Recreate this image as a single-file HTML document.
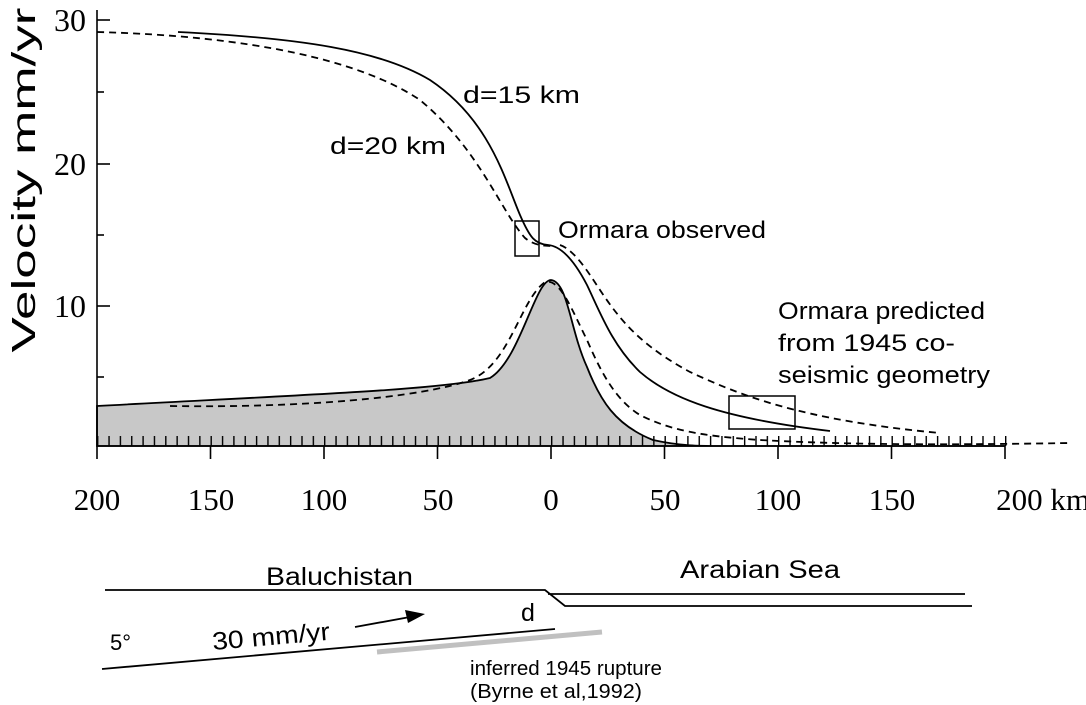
<!DOCTYPE html>
<html><head><style>body{margin:0;background:#fff}svg{display:block}text{font-family:"Liberation Sans",sans-serif}</style></head><body>
<svg width="1086" height="705" viewBox="0 0 1086 705">
<defs>
<pattern id="tk" x="97" y="0" width="11.35" height="705" patternUnits="userSpaceOnUse">
<line x1="0.7" y1="436" x2="0.7" y2="446" stroke="#000" stroke-width="1.4"/>
</pattern>
</defs>
<path d="M97,406 C300,395 440,390 490,378 C520,360 535,280 551,280 C568,282 570,330 587,367 C600,400 615,425 653,440 C680,446 700,446 720,446 L1005,446 L97,446 Z" fill="#c8c8c8" stroke="#000" stroke-width="1.8"/>
<rect x="96" y="435" width="912" height="12" fill="url(#tk)"/>
<g stroke="#000" stroke-width="1.6" fill="none">
<line x1="97" y1="10" x2="97" y2="446"/>
<line x1="97" y1="446" x2="1005" y2="446"/>
<line x1="97" y1="20" x2="110" y2="20"/><line x1="97" y1="92" x2="104" y2="92"/>
<line x1="97" y1="164" x2="110" y2="164"/><line x1="97" y1="235" x2="104" y2="235"/>
<line x1="97" y1="306" x2="110" y2="306"/><line x1="97" y1="377" x2="104" y2="377"/>
<line x1="97" y1="446" x2="97" y2="459"/><line x1="210.5" y1="446" x2="210.5" y2="459"/>
<line x1="324" y1="446" x2="324" y2="459"/><line x1="437.5" y1="446" x2="437.5" y2="459"/>
<line x1="551" y1="446" x2="551" y2="459"/><line x1="664.5" y1="446" x2="664.5" y2="459"/>
<line x1="778" y1="446" x2="778" y2="459"/><line x1="891.5" y1="446" x2="891.5" y2="459"/>
<line x1="1005" y1="446" x2="1005" y2="459"/>
</g>
<g fill="none" stroke="#000" stroke-width="1.8">
<path d="M178,32 C300,38 380,50 430,80 C490,120 505,180 520,215 C530,238 535,244 548,245 C562,246 575,262 587,285 C600,312 612,345 640,372 C670,398 720,418 830,431"/>
<path d="M97,32 C250,36 360,60 420,100 C480,150 500,210 525,238 C535,246 545,246 555,246" stroke-dasharray="7,5"/>
<path d="M560,245 C575,250 590,275 600,290 C620,320 640,345 690,372 C740,395 800,420 940,433" stroke-dasharray="7,5"/>
<path d="M170,406 C300,408 420,398 470,380 C510,365 520,300 545,282 C560,278 572,310 587,340 C600,370 615,400 640,415 C670,430 700,436 760,440 C850,445 950,445 1070,443" stroke-dasharray="7,5"/>
<rect x="515" y="221" width="24" height="35" stroke-width="1.5"/>
<rect x="729" y="396" width="66" height="33" stroke-width="1.5"/>
</g>
<g font-size="32" text-anchor="end">
<text x="86" y="31" style="font-family:'Liberation Serif',serif">30</text>
<text x="86" y="175" style="font-family:'Liberation Serif',serif">20</text>
<text x="86" y="317" style="font-family:'Liberation Serif',serif">10</text>
</g>
<g font-size="31" text-anchor="middle">
<text x="97" y="510" style="font-family:'Liberation Serif',serif">200</text>
<text x="211" y="510" style="font-family:'Liberation Serif',serif">150</text>
<text x="324" y="510" style="font-family:'Liberation Serif',serif">100</text>
<text x="438" y="510" style="font-family:'Liberation Serif',serif">50</text>
<text x="551" y="510" style="font-family:'Liberation Serif',serif">0</text>
<text x="665" y="510" style="font-family:'Liberation Serif',serif">50</text>
<text x="778" y="510" style="font-family:'Liberation Serif',serif">100</text>
<text x="892" y="510" style="font-family:'Liberation Serif',serif">150</text>
<text x="1043" y="510" style="font-family:'Liberation Serif',serif">200 km</text>
</g>
<text transform="translate(35,180) rotate(-90)" font-size="33" text-anchor="middle" textLength="345" lengthAdjust="spacingAndGlyphs">Velocity mm/yr</text>
<text x="463" y="103" font-size="24" textLength="117" lengthAdjust="spacingAndGlyphs">d=15 km</text>
<text x="330" y="154" font-size="24" textLength="116" lengthAdjust="spacingAndGlyphs">d=20 km</text>
<text x="558" y="238" font-size="24" textLength="208" lengthAdjust="spacingAndGlyphs">Ormara observed</text>
<text x="778" y="319" font-size="24" textLength="207" lengthAdjust="spacingAndGlyphs">Ormara predicted</text>
<text x="778" y="351" font-size="24" textLength="177" lengthAdjust="spacingAndGlyphs">from 1945 co-</text>
<text x="778" y="383" font-size="24" textLength="212" lengthAdjust="spacingAndGlyphs">seismic geometry</text>
<g fill="none" stroke="#000" stroke-width="1.8">
<path d="M105,590 L545,590 L565,606 L972,606"/>
<line x1="548" y1="594" x2="965" y2="594"/>
<line x1="102" y1="669" x2="555" y2="629"/>
<line x1="355" y1="627" x2="410" y2="617"/>
</g>
<polygon points="425,614 405,610 408,623" fill="#000"/>
<line x1="377" y1="652" x2="602" y2="632" stroke="#c0c0c0" stroke-width="5"/>
<text x="266" y="585" font-size="25" textLength="147" lengthAdjust="spacingAndGlyphs">Baluchistan</text>
<text x="680" y="578" font-size="25" textLength="160" lengthAdjust="spacingAndGlyphs">Arabian Sea</text>
<text x="521" y="621" font-size="25">d</text>
<text x="110" y="650" font-size="22">5°</text>
<text x="213" y="650" font-size="25" transform="rotate(-5 213 650)" textLength="118" lengthAdjust="spacingAndGlyphs">30 mm/yr</text>
<text x="470" y="675" font-size="20" textLength="192" lengthAdjust="spacingAndGlyphs">inferred 1945 rupture</text>
<text x="470" y="698" font-size="20" textLength="172" lengthAdjust="spacingAndGlyphs">(Byrne et al,1992)</text>
</svg>
</body></html>
